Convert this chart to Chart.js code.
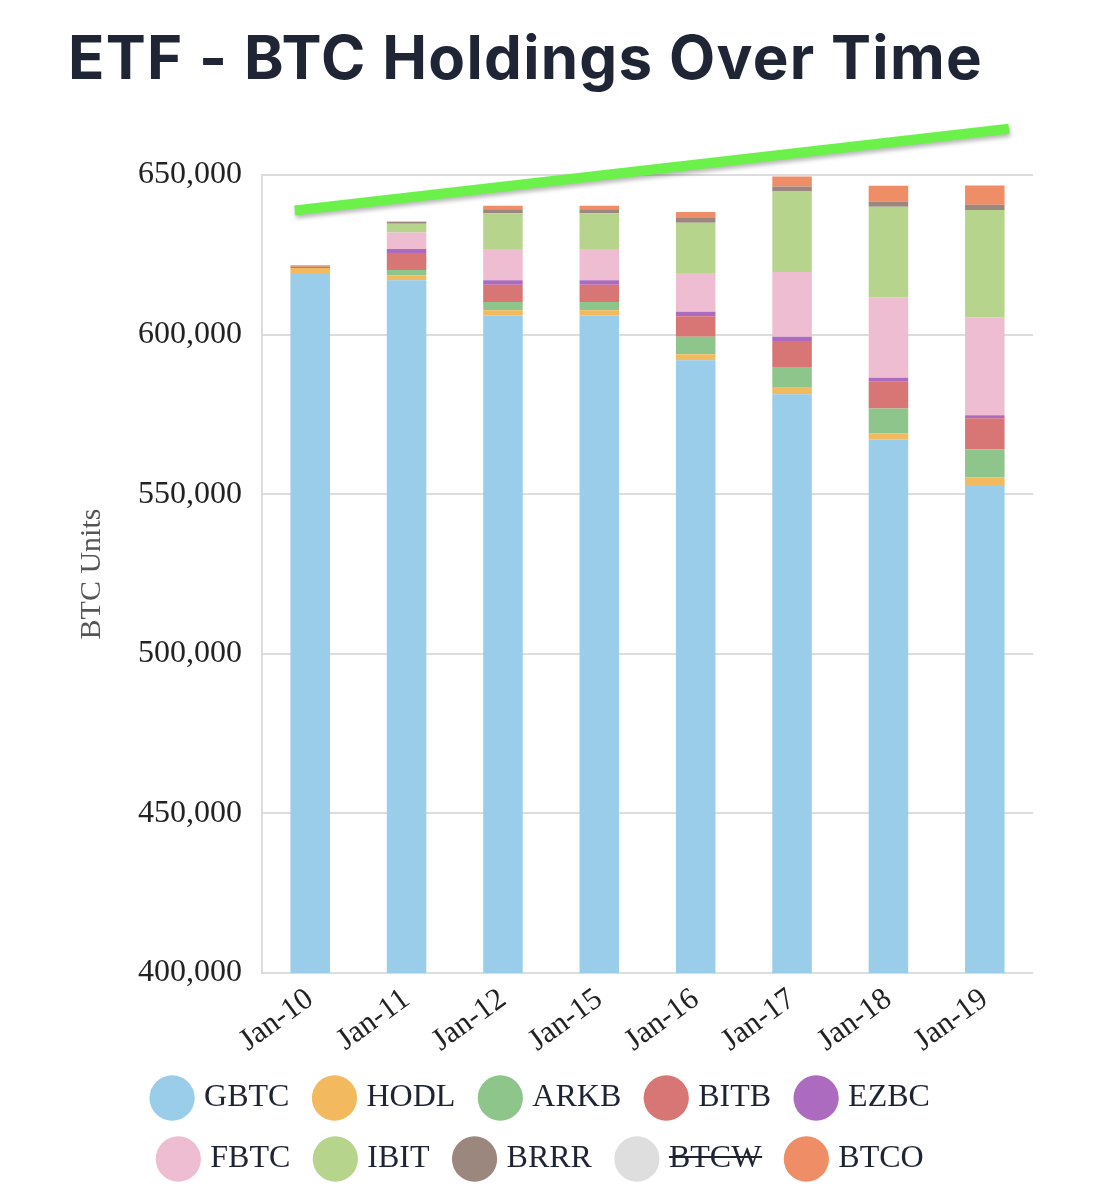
<!DOCTYPE html>
<html>
<head>
<meta charset="utf-8">
<title>ETF - BTC Holdings Over Time</title>
<script src="https://cdn.jsdelivr.net/npm/chart.js@4.4.1/dist/chart.umd.min.js"></script>
<style>
    html, body { margin: 0; padding: 0; background: #ffffff; }
    #wrap { position: relative; width: 1103px; height: 1200px; overflow: hidden; }
    #title {
        position: absolute; left: 68px; top: 25px; margin: 0;
        font: 700 60px/64px 'Inter', 'Open Sans', sans-serif;
        letter-spacing: 1.3px;
        color: #1f2535; white-space: nowrap;
    }
    #chart { position: absolute; left: 0; top: 0; }
</style>
</head>
<body>
<div id="wrap">
    <h1 id="title">ETF - BTC Holdings Over Time</h1>
    <canvas id="chart" width="1103" height="1200"></canvas>
</div>
<script>
// ── Data (BTC units per fund) ──
const LABELS = ['Jan-10', 'Jan-11', 'Jan-12', 'Jan-15', 'Jan-16', 'Jan-17', 'Jan-18', 'Jan-19'];

const GBTC = [619300, 617030, 606000, 606000, 591940, 581310, 567130, 552880];
const HODL = [1570, 1570, 1650, 1650, 1870, 2070, 1990, 2370];
const ARKB = [0, 1650, 2600, 2600, 5500, 6460, 7690, 8720];
const BITB = [0, 5300, 5400, 5400, 6470, 8130, 8440, 9810];
const EZBC = [0, 1250, 1350, 1350, 1350, 1340, 1250, 970];
const FBTC = [0, 5200, 9800, 9800, 12180, 20310, 25220, 30720];
const IBIT = [0, 2700, 11250, 11250, 15700, 25220, 28340, 33530];
const BRRR = [400, 600, 1250, 1250, 1500, 1560, 1660, 1690];
const BTCW = [0, 200, 300, 300, 400, 500, 600, 700];   // hidden in the legend
const BTCO = [430, 150, 1050, 1050, 1900, 3130, 4900, 6030];

// hand-drawn green trend stroke (x in category index units)
const TREND_X = [-0.16, 7.25];
const TREND_Y = [638900, 664500];

// y-axis ticks
const Y_MIN = 400000;
const Y_MAX = 650000;
const Y_STEP = 50000;

const SERIES = [
    { name: 'GBTC', data: GBTC, color: '#99cdea' },
    { name: 'HODL', data: HODL, color: '#f2b95e' },
    { name: 'ARKB', data: ARKB, color: '#8ec58a' },
    { name: 'BITB', data: BITB, color: '#d77674' },
    { name: 'EZBC', data: EZBC, color: '#ad6bc0' },
    { name: 'FBTC', data: FBTC, color: '#eebdd1' },
    { name: 'IBIT', data: IBIT, color: '#b6d48c' },
    { name: 'BRRR', data: BRRR, color: '#9b877e' },
    { name: 'BTCW', data: BTCW, color: '#dedede', hidden: true },
    { name: 'BTCO', data: BTCO, color: '#ee8d66' }
];

Chart.defaults.font.family = "'Liberation Serif', 'Times New Roman', serif";
Chart.defaults.color = '#222222';

// ── soft drop shadow under the trend stroke ──
const trendShadow = {
    id: 'trendShadow',
    beforeDatasetDraw(chart, args) {
        if (args.meta.type !== 'line') return;
        const ctx = chart.ctx;
        ctx.save();
        ctx.shadowColor = 'rgba(0,0,0,0.28)';
        ctx.shadowBlur = 4;
        ctx.shadowOffsetX = 1;
        ctx.shadowOffsetY = 3;
    },
    afterDatasetDraw(chart, args) {
        if (args.meta.type !== 'line') return;
        chart.ctx.restore();
    }
};

const barSets = SERIES.map(s => ({
    type: 'bar',
    label: s.name,
    data: s.data,
    backgroundColor: s.color,
    borderWidth: 0,
    hidden: !!s.hidden,
    grouped: false,           // one stack per category
    barPercentage: 0.41,
    categoryPercentage: 1,
    order: 2
}));

const trendSet = {
    type: 'line',
    label: 'trend',
    data: TREND_X.map((x, i) => ({ x, y: TREND_Y[i] })),
    xAxisID: 'x2',
    stack: 'trend',
    borderColor: '#6cf04a',
    borderWidth: 10,
    borderCapStyle: 'butt',
    pointRadius: 0,
    clip: false,
    order: 0
};

new Chart(document.getElementById('chart'), {
    data: {
        labels: LABELS,
        datasets: [...barSets, trendSet]
    },
    plugins: [trendShadow],
    options: {
        responsive: false,
        animation: false,
        devicePixelRatio: 1,
        layout: { padding: { top: 175, left: 53, right: 70, bottom: 15 } },
        plugins: {
            tooltip: { enabled: false },
            legend: {
                position: 'bottom',
                labels: {
                    usePointStyle: true,
                    pointStyle: 'circle',
                    boxHeight: 32,
                    padding: 29,
                    color: '#1f2433',
                    font: { size: 32 },
                    filter: item => item.text !== 'trend'
                }
            }
        },
        scales: {
            x: {
                stacked: true,
                offset: true,
                grid: { display: false },
                border: { display: false },
                ticks: {
                    color: '#222222',
                    font: { size: 31 },
                    minRotation: 36,
                    maxRotation: 36,
                    padding: 0
                },
                afterFit: scale => { scale.height = 80; }
            },
            x2: {
                type: 'linear',
                display: false,
                min: -0.5,
                max: 7.5
            },
            y: {
                stacked: true,
                min: Y_MIN,
                max: Y_MAX,
                grid: { color: '#dddddd', lineWidth: 2, drawTicks: false },
                border: { display: true, color: '#dddddd', width: 2 },
                ticks: {
                    stepSize: Y_STEP,
                    padding: 20,
                    color: '#222222',
                    font: { size: 32 },
                    callback: v => v.toLocaleString('en-US')
                },
                title: {
                    display: true,
                    text: 'BTC Units',
                    color: '#555555',
                    font: { size: 30 },
                    padding: { top: 21, bottom: 10 }
                },
                afterFit: scale => { scale.width = 209; }
            }
        }
    }
});
</script>
</body>
</html>
